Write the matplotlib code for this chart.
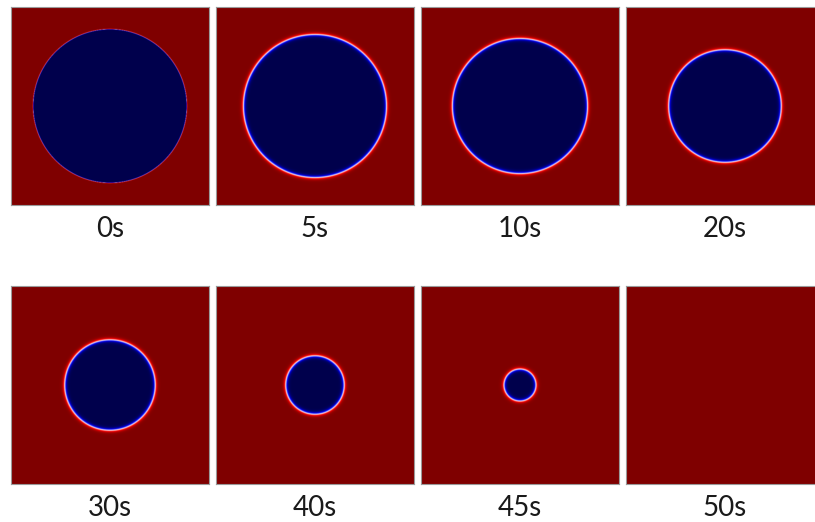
import numpy as np
import matplotlib
matplotlib.use("Agg")
import matplotlib.pyplot as plt

# Data: time labels and droplet radius (radius / domain side)
times = ["0s", "5s", "10s", "20s", "30s", "40s", "45s", "50s"]
radius_frac = [0.389, 0.362, 0.342, 0.285, 0.229, 0.148, 0.081, 0.0]
interface_width = [0.002, 0.0105, 0.0105, 0.0105, 0.0105, 0.0105, 0.0105, 0.0105]

W, H, DPI = 815, 522, 100
fig = plt.figure(figsize=(W / DPI, H / DPI), dpi=DPI)
fig.patch.set_facecolor("white")

panel_x = [11, 216, 421, 626]
panel_y = [7, 286]
size = 198
label_y = [229, 508]

n = 500
xs = np.linspace(0, 1, n)
X, Y = np.meshgrid(xs, xs)
Rgrid = np.sqrt((X - 0.5) ** 2 + (Y - 0.5) ** 2)

for i, (t, R, w) in enumerate(zip(times, radius_frac, interface_width)):
    row, col = divmod(i, 4)
    x0 = panel_x[col]
    y0 = panel_y[row]
    ax = fig.add_axes([x0 / W, 1 - (y0 + size) / H, size / W, size / H])
    if R > 0:
        field = np.tanh((Rgrid - R) / w)
    else:
        field = np.ones_like(Rgrid)
    ax.imshow(field, cmap="seismic", vmin=-1, vmax=1, origin="lower",
              extent=[0, 1, 0, 1], interpolation="bilinear")
    ax.set_xticks([])
    ax.set_yticks([])
    for s in ax.spines.values():
        s.set_color("#9a9a9a")
        s.set_linewidth(0.8)
    fig.text((x0 + size / 2) / W, 1 - label_y[row] / H, t, ha="center", va="center",
             fontsize=20, family=["Lato", "DejaVu Sans"], color="#1a1a1a")

fig.savefig("out.png", dpi=DPI)
